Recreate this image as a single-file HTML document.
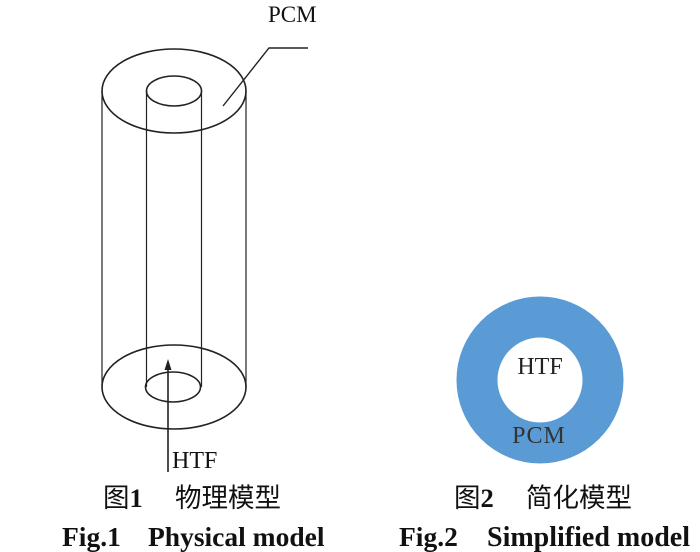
<!DOCTYPE html>
<html><head><meta charset="utf-8"><style>
body{margin:0;background:#fff;width:700px;height:552px;overflow:hidden}
svg{display:block}
</style></head><body>
<svg width="700" height="552" viewBox="0 0 700 552" xmlns="http://www.w3.org/2000/svg">
<g fill="none" stroke="#222" stroke-width="1.6">
<ellipse cx="174" cy="91" rx="72" ry="42"/>
<ellipse cx="174" cy="91" rx="27.5" ry="15"/>
<ellipse cx="174" cy="387" rx="72" ry="42"/>
<ellipse cx="173" cy="387" rx="27.5" ry="15"/>
<line x1="102" y1="91" x2="102" y2="387" stroke-width="1.2"/>
<line x1="246" y1="91" x2="246" y2="387" stroke-width="1.2"/>
<line x1="146.5" y1="91" x2="146.5" y2="387" stroke-width="1.2"/>
<line x1="201.5" y1="91" x2="201.5" y2="387" stroke-width="1.2"/>
<polyline points="223,106 269,48 308,48" stroke-width="1.4"/>
<line x1="168" y1="368" x2="168" y2="472" stroke-width="1.6"/>
</g>
<polygon points="168,359 164.5,370 171.5,370" fill="#222"/>
<g font-family="Liberation Serif, serif" fill="#111">
<text x="268" y="22" font-size="23">PCM</text>
<text x="172" y="468" font-size="24">HTF</text>
</g>
<circle cx="540" cy="380" r="63" fill="none" stroke="#5b9bd5" stroke-width="41"/>
<g font-family="Liberation Serif, serif" font-size="24" text-anchor="middle">
<text x="540" y="374" fill="#222">HTF</text>
<text x="539" y="443" fill="#333" letter-spacing="1">PCM</text>
</g>
<g font-family="Liberation Serif, 'Noto Sans CJK SC', sans-serif" font-size="26.5" fill="#111">
<text x="103" y="507">图<tspan font-weight="bold">1</tspan></text>
<text x="175" y="507">物理模型</text>
<text x="454" y="507">图<tspan font-weight="bold">2</tspan></text>
<text x="526" y="507">简化模型</text>
</g>
<g font-family="Liberation Serif, serif" font-size="27.5" font-weight="bold" fill="#111">
<text x="62" y="546">Fig.1</text>
<text x="148" y="546">Physical model</text>
<text x="399" y="546">Fig.2</text>
<text x="487" y="546" font-size="28">Simplified model</text>
</g>
</svg>
</body></html>
